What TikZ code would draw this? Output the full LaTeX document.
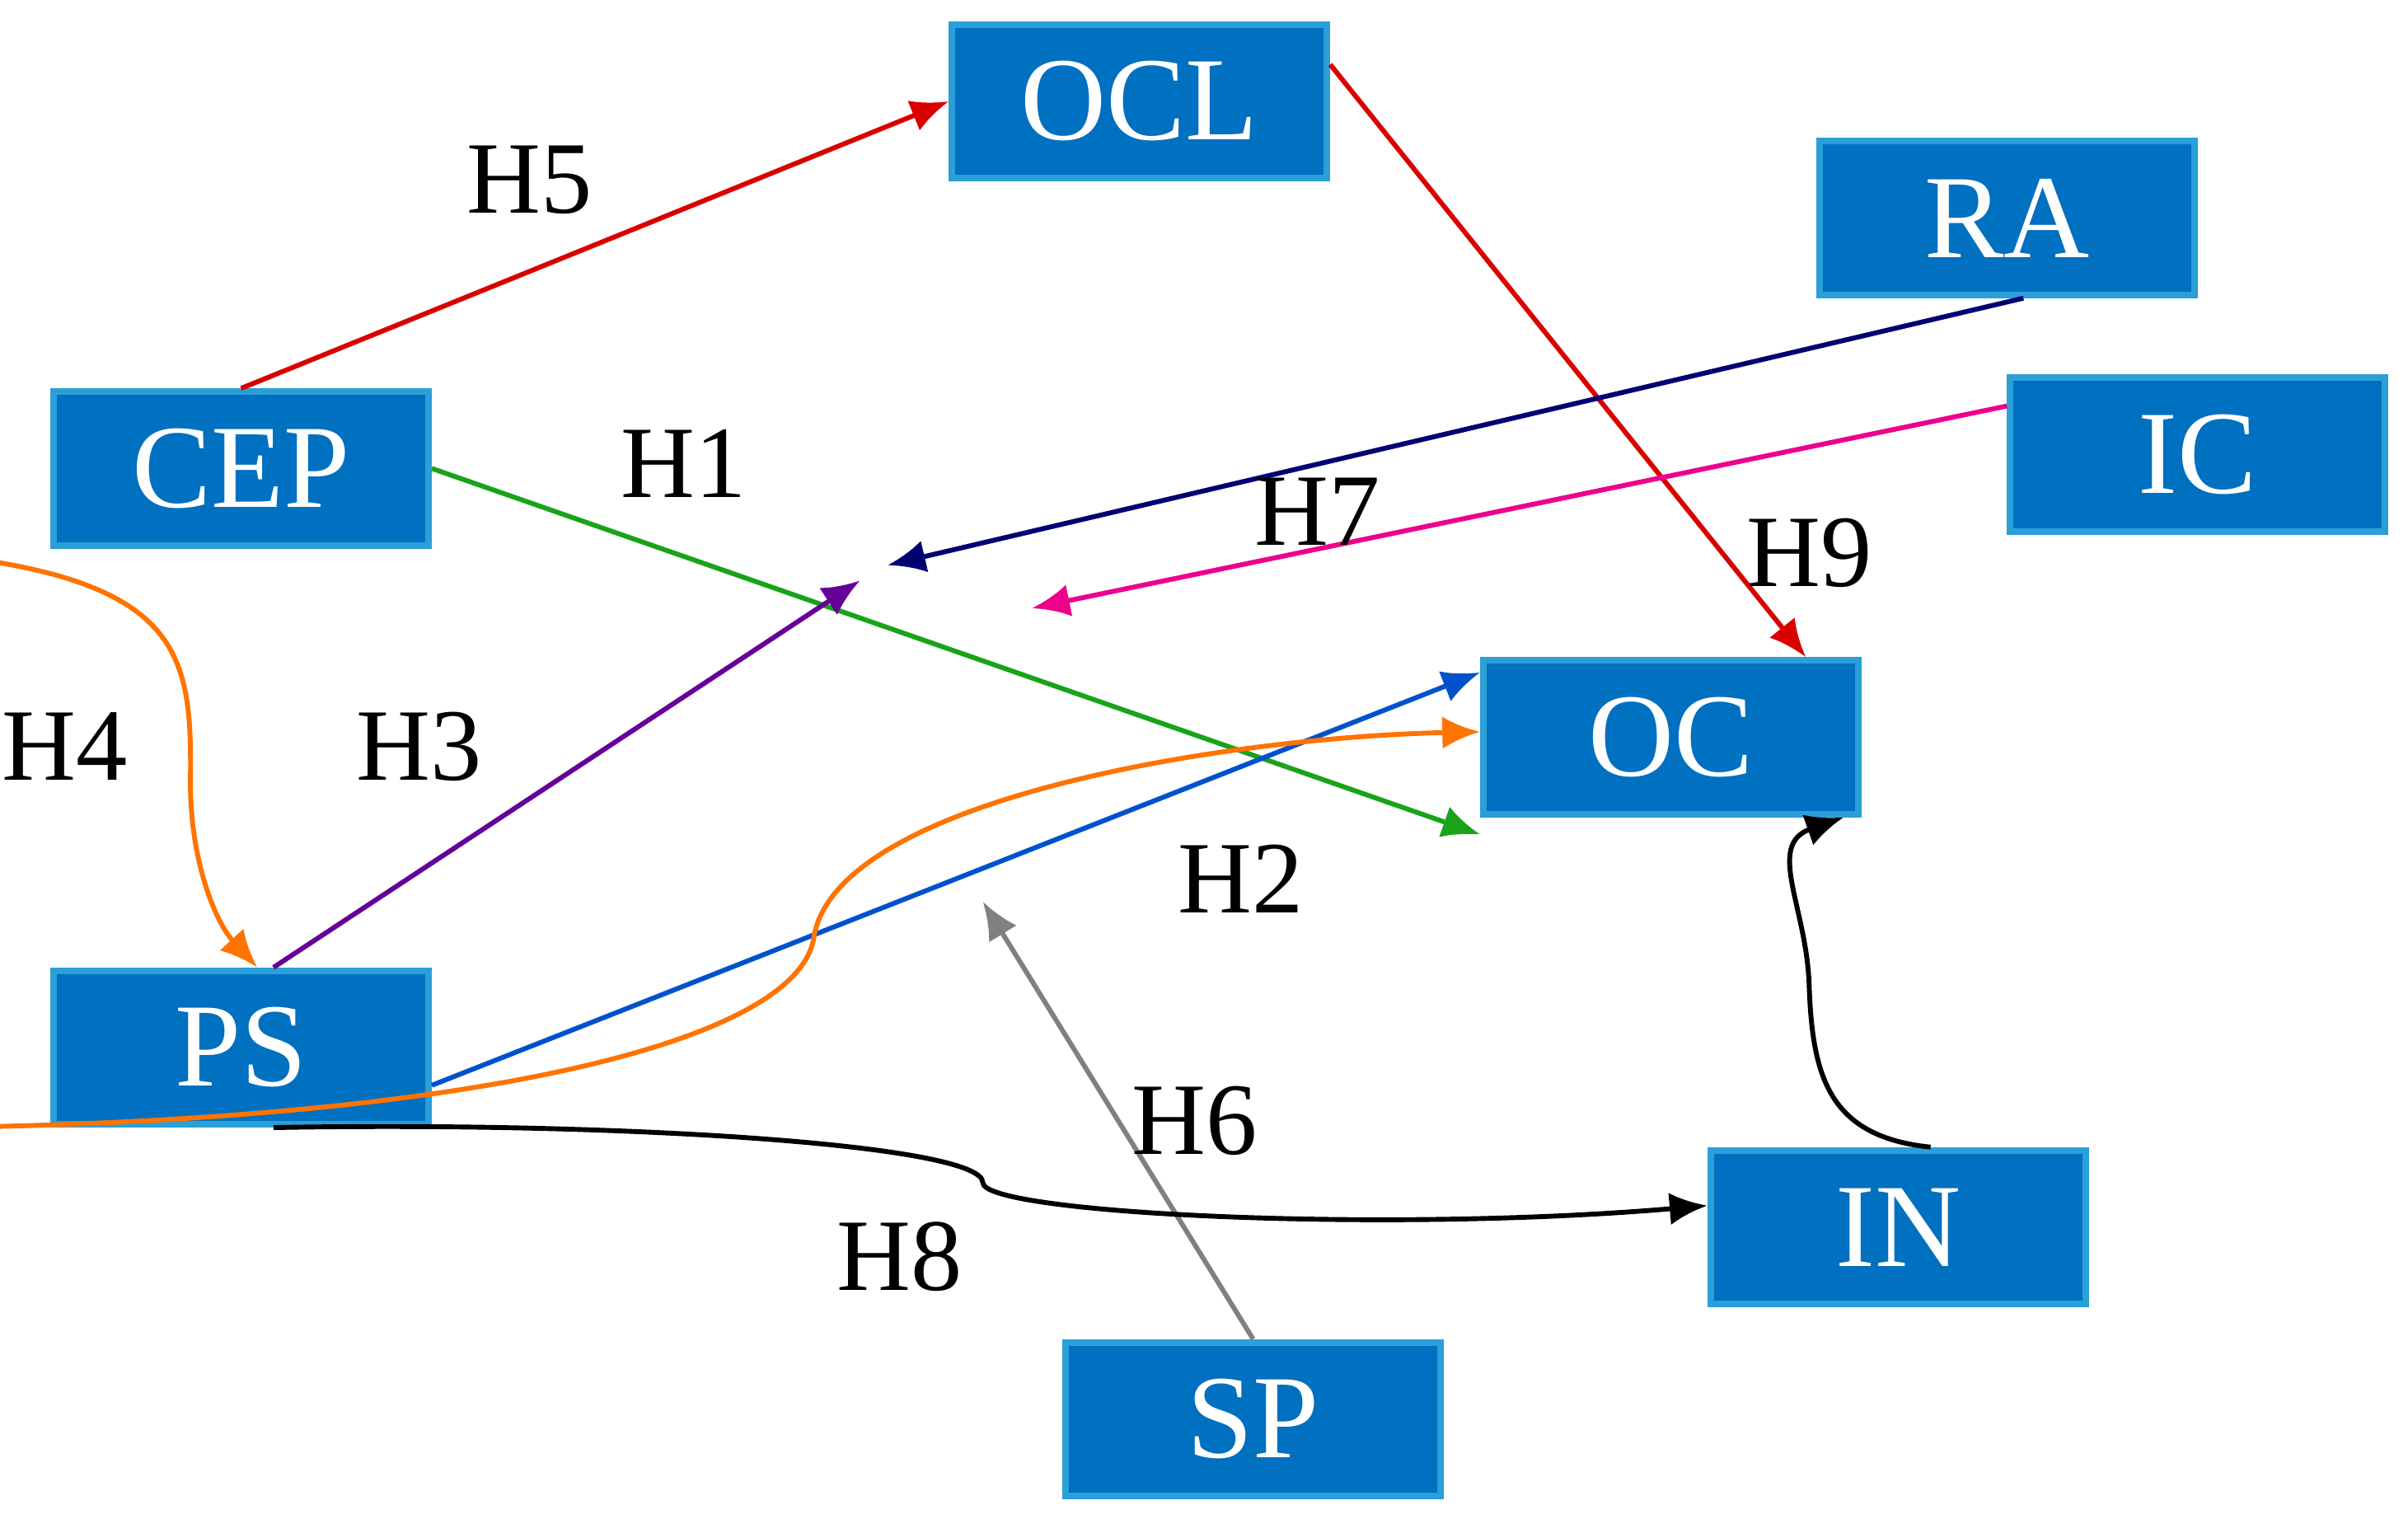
\documentclass[tikz,border=0pt]{standalone}
\usepackage{fontspec}
\setmainfont{Liberation Serif}
\usetikzlibrary{arrows.meta}
\definecolor{boxfill}{HTML}{0070C0}
\definecolor{boxline}{HTML}{2A9FD8}
\begin{document}
\begin{tikzpicture}[x=0.01cm,y=-0.01cm,
  box/.style={draw=boxline,line width=1.2pt,fill=boxfill,text=white,minimum width=2.44cm,minimum height=1cm,inner sep=0pt,font=\fontsize{22}{24}\selectfont},
  lab/.style={font=\fontsize{19}{21}\selectfont},
  e/.style={line width=0.9pt,-{Latex[length=7pt,width=6pt]}}]
\useasboundingbox (0,0) rectangle (1568,1001);
\node[box] (OCL) at (742,66) {OCL};
\node[box] (RA) at (1307,142) {RA};
\node[box] (CEP) at (157,305) {CEP};
\node[box] (IC) at (1431,296) {IC};
\node[box] (OC) at (1088,480) {OC};
\node[box] (PS) at (157,682) {PS};
\node[box] (IN) at (1236,799) {IN};
\node[box] (SP) at (816,924) {SP};
\coordinate (m7) at (578,368);
\coordinate (m9) at (672,396);
\coordinate (m3) at (560,378);
\coordinate (m6) at (640,587);
\draw[e,red!85!black] (CEP.north) -- (OCL.west);
\draw[e,red!85!black] ([yshift=-8]OCL.north east) -- ([xshift=25]OC.north);
\draw[e,green!60!black!90] (CEP.east) -- ([yshift=-18]OC.west);
\draw[e,blue!45!black] ([xshift=3]RA.south) -- (m7);
\draw[e,magenta] ([yshift=9]IC.west) -- (m9);
\draw[e,violet!80!blue] ([xshift=6]PS.north) -- (m3);
\draw[e,orange!90!red] ([xshift=-69]CEP.south) .. controls (120,370) and (125,420) .. (124,510) .. controls (124,560) and (140,600) .. ([xshift=3]PS.north);
\draw[e,blue!60!cyan!80!black] ([yshift=-7]PS.east) -- ([yshift=12]OC.west);
\draw[e,orange!90!red] ([xshift=-57]PS.south) .. controls (300,730) and (520,680) .. (530,610) .. controls (545,520) and (800,480) .. ([yshift=1]OC.west);
\draw[e,gray] (SP.north) -- (m6);
\draw[e,black] ([xshift=6]PS.south) .. controls (400,730) and (640,745) .. (640,770) .. controls (640,790) and (900,803) .. ([yshift=4]IN.west);
\draw[e,black] ([xshift=6]IN.north) .. controls (1190,740) and (1180,700) .. (1178,640) .. controls (1176,590) and (1150,550) .. ([xshift=32]OC.south);
\node[lab] (h5) at (345,117) {H5};
\node[lab] (h1) at (445,302) {H1};
\node[lab] (h7) at (858,333) {H7};
\node[lab] (h9) at (1178,360) {H9};
\node[lab] (h3) at (273,486) {H3};
\node[lab] (h4) at (42,486) {H4};
\node[lab] (h2) at (808,572) {H2};
\node[lab] (h6) at (778,730) {H6};
\node[lab] (h8) at (586,818) {H8};
\end{tikzpicture}
\end{document}
